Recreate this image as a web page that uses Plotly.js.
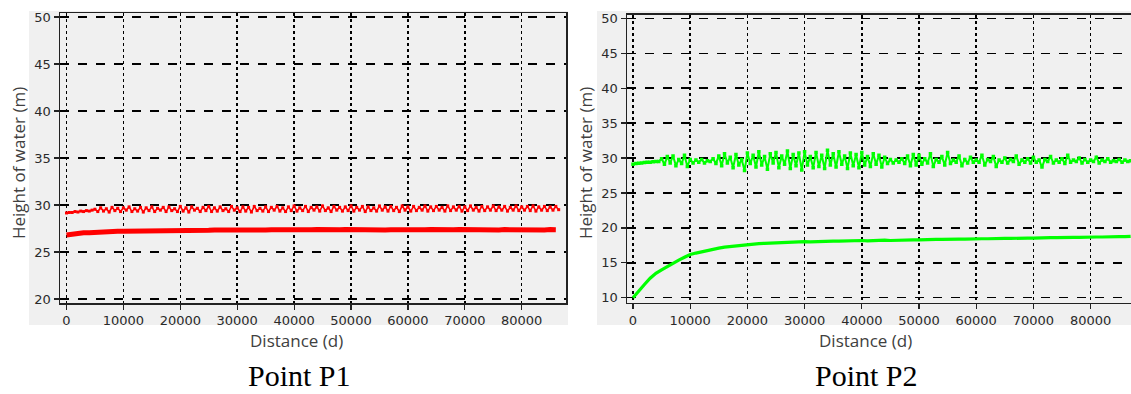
<!DOCTYPE html>
<html>
<head>
<meta charset="utf-8">
<script src="https://cdn.plot.ly/plotly-3.0.1.min.js"></script>
<style>html,body{margin:0;padding:0;background:#fff;}#chart{width:1131px;height:394px;}</style>
</head>
<body>
<div id="chart"></div>
<script>
// Sampling of the distance axis (d)
const fineStart = 0, fineStep = 500;     // densely sampled (noisy) series
const coarseStart = 0, coarseStep = 1000; // smoother series

// Point P1 — upper (noisy) series, every 500 d
const p1Upper = [
29.15,29.2,29.2,29.3,29.25,29.35,29.3,29.4,29.35,29.45,
29.55,29.3,29.7,29.35,29.6,29.25,29.75,29.4,29.65,29.3,
29.7,29.45,29.8,29.3,29.6,29.35,29.75,29.25,29.7,29.4,
29.8,29.3,29.65,29.45,29.75,29.3,29.8,29.4,29.6,29.3,
29.85,29.35,29.7,29.25,29.8,29.45,29.65,29.3,29.75,29.4,
29.85,29.3,29.7,29.35,29.8,29.4,29.6,29.3,29.85,29.45,
29.7,29.3,29.8,29.35,29.75,29.25,29.85,29.4,29.65,29.35,
29.8,29.3,29.75,29.45,29.85,29.35,29.7,29.3,29.8,29.4,
29.9,29.35,29.7,29.4,29.85,29.3,29.75,29.45,29.8,29.35,
29.9,29.4,29.7,29.3,29.85,29.45,29.75,29.35,29.8,29.4,
29.9,29.35,29.75,29.45,29.85,29.3,29.8,29.4,29.7,29.35,
29.9,29.45,29.8,29.35,29.85,29.4,29.75,29.3,29.9,29.45,
29.8,29.35,29.85,29.4,29.75,29.45,29.9,29.35,29.8,29.4,
29.85,29.45,29.75,29.35,29.9,29.4,29.8,29.45,29.85,29.35,
29.8,29.4,29.9,29.45,29.75,29.35,29.85,29.4,29.8,29.45,
29.9,29.4,29.8,29.45,29.85,29.35,29.75,29.45,29.9,29.4,
29.8,29.45,29.85,29.4,29.9,29.35,29.8,29.45,29.85,29.4,
29.8,29.45,29.85,29.5
];

// Point P1 — lower series, every 1000 d
const p1Lower = [
26.8,26.9,27.0,27.05,27.05,27.1,27.1,27.15,27.15,27.2,27.2,
27.2,27.25,27.2,27.25,27.25,27.3,27.25,27.3,27.25,
27.3,27.28,27.32,27.3,27.33,27.3,27.35,27.32,27.3,27.34,
27.33,27.35,27.32,27.36,27.34,27.33,27.37,27.35,27.33,27.36,
27.35,27.37,27.34,27.36,27.38,27.35,27.37,27.34,27.36,27.38,
27.36,27.34,27.37,27.35,27.38,27.36,27.34,27.37,27.35,27.38,
27.36,27.38,27.35,27.37,27.39,27.36,27.38,27.35,27.37,27.39,
27.37,27.35,27.38,27.36,27.39,27.37,27.35,27.38,27.36,27.39,
27.37,27.39,27.36,27.38,27.35,27.38,27.37
];

// Point P2 — upper (noisy) series, every 500 d
const p2Upper = [
29.1,29.2,29.25,29.3,29.35,29.4,29.4,29.45,29.5,29.5,
29.9,29.1,30.2,29.3,30.3,28.9,29.8,29.2,30.4,28.8,
29.8,29.3,29.7,29.4,29.8,29.3,29.6,29.5,29.9,29.2,
30.3,28.9,30.6,29.3,30.1,28.6,30.5,29.0,29.8,28.2,30.7,29.2,30.4,28.7,30.9,29.0,30.2,28.4,30.6,29.3,
30.8,28.6,30.3,29.1,31.0,28.5,30.5,28.9,30.7,28.3,30.9,29.0,30.2,28.6,30.8,28.8,30.4,28.5,31.1,29.0,
30.6,28.7,30.9,29.1,30.3,28.5,30.7,28.9,30.5,28.6,30.8,29.0,30.2,28.8,30.6,29.1,30.4,28.7,30.1,29.2,
29.8,29.3,29.7,29.4,29.9,29.2,30.3,28.9,30.5,29.0,
30.4,29.1,29.9,29.3,30.6,28.8,29.8,29.4,30.2,29.0,30.8,29.2,29.7,29.4,30.3,28.9,29.8,29.3,30.1,29.4,
29.7,29.4,30.4,29.0,29.8,29.5,30.2,28.8,29.7,29.4,30.0,29.3,29.8,29.5,30.3,29.1,29.7,29.4,29.9,29.3,
30.1,29.4,29.7,28.7,29.8,29.5,30.2,29.3,29.7,29.4,29.9,29.2,30.4,29.4,29.7,29.5,30.0,29.3,29.8,29.4,
29.7,29.5,30.1,29.3,29.7,29.5,29.9,29.4,29.6,29.5,29.8,29.4,29.7,29.5,29.6
];

// Point P2 — lower series, every 1000 d
const p2Lower = [
10.0,11.0,11.9,12.8,13.5,14.0,14.5,14.9,15.4,15.8,
16.2,16.4,16.6,16.8,17.0,17.1,17.25,17.35,17.45,17.55,
17.65,17.7,17.75,17.8,17.85,17.85,17.9,17.95,17.95,18.0,
18.05,18.0,18.05,18.1,18.05,18.1,18.1,18.15,18.1,18.15,
18.2,18.15,18.2,18.2,18.25,18.2,18.25,18.3,18.25,18.3,
18.3,18.35,18.3,18.35,18.35,18.4,18.35,18.4,18.4,18.45,
18.4,18.45,18.45,18.5,18.45,18.5,18.5,18.55,18.5,18.55,
18.55,18.6,18.55,18.6,18.6,18.65,18.6,18.65,18.65,18.7,
18.65,18.7,18.7,18.75,18.7,18.75,18.75,18.8
];

const xTicks = [0,10000,20000,30000,40000,50000,60000,70000,80000];
const p1YTicks = [20,25,30,35,40,45,50];
const p2YTicks = [10,15,20,25,30,35,40,45,50];
const xTitle = 'Distance (d)';
const yTitle = 'Height of water (m)';
const panelTitles = ['Point P1','Point P2'];

const W = 1131, H = 394;
const px = v => v / W, py = v => 1 - v / H;

const red = '#ff0000', green = '#00ff00';

const traces = [
  {x0: fineStart, dx: fineStep, y: p1Upper, type: 'scatter', mode: 'lines+markers',
   line: {color: red, width: 1.6}, marker: {color: red, size: 3, symbol: 'square'},
   xaxis: 'x', yaxis: 'y', name: 'P1 upper'},
  {x0: coarseStart, dx: coarseStep, y: p1Lower, type: 'scatter', mode: 'lines',
   line: {color: red, width: 5}, xaxis: 'x', yaxis: 'y', name: 'P1 lower'},
  {x0: fineStart, dx: fineStep, y: p2Upper, type: 'scatter', mode: 'lines+markers',
   line: {color: green, width: 2}, marker: {color: green, size: 3.5, symbol: 'square'},
   xaxis: 'x2', yaxis: 'y2', name: 'P2 upper'},
  {x0: coarseStart, dx: coarseStep, y: p2Lower, type: 'scatter', mode: 'lines',
   line: {color: green, width: 3.2}, xaxis: 'x2', yaxis: 'y2', name: 'P2 lower'}
];

const tickFont = {family: 'DejaVu Sans', size: 13, color: '#2a2a2a'};
const titleFont = {family: 'Open Sans', size: 17, color: '#404040'};

function xAxis(domain, range, anchor) {
  return {
    domain: domain, range: range, anchor: anchor,
    tickmode: 'array', tickvals: xTicks, ticktext: xTicks.map(String),
    ticks: 'outside', ticklen: 5, tickcolor: '#222', tickwidth: 1.2,
    showgrid: true, gridcolor: '#000', gridwidth: 1.5, griddash: 'dot',
    showline: true, linecolor: '#222', linewidth: 1.5, mirror: true,
    zeroline: false, tickfont: tickFont
  };
}
function yAxis(domain, range, ticks, anchor) {
  return {
    domain: domain, range: range, anchor: anchor,
    tickmode: 'array', tickvals: ticks, ticktext: ticks.map(String),
    ticks: 'outside', ticklen: 5, tickcolor: '#222', tickwidth: 1.2,
    showgrid: true, gridcolor: '#000', gridwidth: 1.3, griddash: 'dash',
    showline: true, linecolor: '#222', linewidth: 1.5, mirror: true,
    zeroline: false, tickfont: tickFont
  };
}

function textAnn(text, x, y, font, angle) {
  return {text: text, xref: 'paper', yref: 'paper', x: px(x), y: py(y),
          showarrow: false, xanchor: 'center', yanchor: 'middle',
          textangle: angle || 0, font: font, borderpad: 0};
}

const serif = {family: 'Liberation Serif', size: 30, color: '#000'};

const layout = {
  width: W, height: H,
  margin: {l: 0, r: 0, t: 0, b: 0},
  paper_bgcolor: '#ffffff', plot_bgcolor: '#f0f0f0',
  showlegend: false,
  xaxis: xAxis([px(60), px(566)], [-1142, 87786], 'y'),
  yaxis: yAxis([py(303), py(13)], [19.57, 50.43], p1YTicks, 'x'),
  xaxis2: xAxis([px(627), 1], [-1049, 87063], 'y2'),
  yaxis2: yAxis([py(302.7), py(14.7)], [9.3, 50.5], p2YTicks, 'x2'),
  shapes: [
    {type: 'rect', xref: 'paper', yref: 'paper', x0: px(29), x1: px(568), y0: py(325), y1: py(11),
     fillcolor: '#f0f0f0', line: {width: 0}, layer: 'below'},
    {type: 'rect', xref: 'paper', yref: 'paper', x0: px(597), x1: 1, y0: py(325), y1: py(11),
     fillcolor: '#f0f0f0', line: {width: 0}, layer: 'below'}
  ],
  annotations: [
    textAnn(yTitle, 18, 163, titleFont, -90),
    textAnn(yTitle, 585, 163, titleFont, -90),
    textAnn(xTitle, 296, 340, titleFont),
    textAnn(xTitle, 865, 340, titleFont),
    textAnn(panelTitles[0], 299, 375, serif),
    textAnn(panelTitles[1], 866, 375, serif)
  ]
};

Plotly.newPlot('chart', traces, layout, {displayModeBar: false, staticPlot: true});
</script>
</body>
</html>
